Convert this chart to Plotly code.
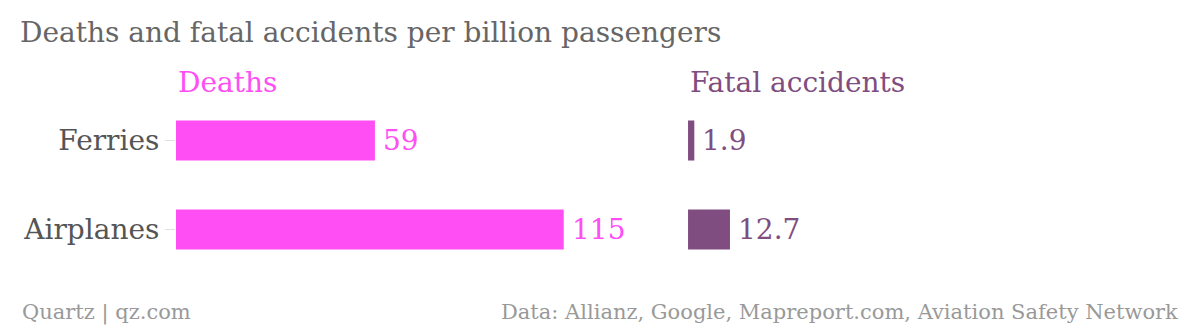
import plotly.graph_objects as go
from plotly.subplots import make_subplots

categories = ["Ferries", "Airplanes"]
deaths = [59, 115]
fatal_accidents = [1.9, 12.7]
deaths_labels = ["59", "115"]
fatal_labels = ["1.9", "12.7"]

PINK = "#ff4ef4"
PURPLE = "#804d80"
FONT = "DejaVu Serif"

fig = make_subplots(rows=1, cols=2, shared_yaxes=True, horizontal_spacing=0.0)

fig.add_trace(go.Bar(
    y=categories, x=deaths, orientation="h", marker=dict(color=PINK, line=dict(width=0)),
    width=0.45, hoverinfo="skip",
), row=1, col=1)
fig.add_trace(go.Bar(
    y=categories, x=fatal_accidents, orientation="h", marker=dict(color=PURPLE, line=dict(width=0)),
    width=0.45, hoverinfo="skip",
), row=1, col=2)

for cat, val, lab in zip(categories, deaths, deaths_labels):
    fig.add_annotation(x=val, y=cat, xref="x", yref="y", text=lab, showarrow=False,
                       xanchor="left", yanchor="middle", xshift=6,
                       font=dict(size=28, color=PINK, family=FONT))
for cat, val, lab in zip(categories, fatal_accidents, fatal_labels):
    fig.add_annotation(x=val, y=cat, xref="x2", yref="y", text=lab, showarrow=False,
                       xanchor="left", yanchor="middle", xshift=6,
                       font=dict(size=28, color=PURPLE, family=FONT))

fig.update_layout(
    width=1200, height=330,
    margin=dict(l=176, r=20, t=96, b=56),
    paper_bgcolor="white", plot_bgcolor="white",
    showlegend=False,
    font=dict(family=FONT, color="#555555"),
    title=dict(text="Deaths and fatal accidents per billion passengers",
               x=20/1200, xanchor="left", y=1-32/330, yanchor="middle",
               font=dict(size=28, color="#666666", family=FONT)),
    xaxis=dict(domain=[0, 0.45], range=[0, 134], visible=False, showgrid=False, zeroline=False),
    xaxis2=dict(domain=[0.51, 1.0], range=[0, 149], visible=False, showgrid=False, zeroline=False),
    yaxis=dict(autorange="reversed", showgrid=False, zeroline=False, showline=False,
               ticks="outside", ticklen=10, tickcolor="#e0e0e0", tickwidth=1,
               tickfont=dict(size=28, color="#555555", family=FONT)),
)
fig.update_yaxes(ticks="", row=1, col=2)

fig.add_annotation(text="Deaths", xref="paper", yref="paper", x=0, y=(274.5-82)/178.5,
                   xanchor="left", yanchor="middle", showarrow=False,
                   font=dict(size=28, color=PINK, family=FONT))
fig.add_annotation(text="Fatal accidents", xref="paper", yref="paper", x=0.51, y=(274.5-82)/178.5,
                   xanchor="left", yanchor="middle", showarrow=False,
                   font=dict(size=28, color=PURPLE, family=FONT))
fig.add_annotation(text="Quartz | qz.com", xref="paper", yref="paper", x=(20-176)/1004, y=(274.5-313)/178.5,
                   xanchor="left", yanchor="middle", showarrow=False,
                   font=dict(size=21, color="#999999", family=FONT))
fig.add_annotation(text="Data: Allianz, Google, Mapreport.com, Aviation Safety Network", xref="paper", yref="paper",
                   x=1.0, y=(274.5-313)/178.5,
                   xanchor="right", yanchor="middle", showarrow=False,
                   font=dict(size=21, color="#999999", family=FONT))

fig.write_html("out.html")
